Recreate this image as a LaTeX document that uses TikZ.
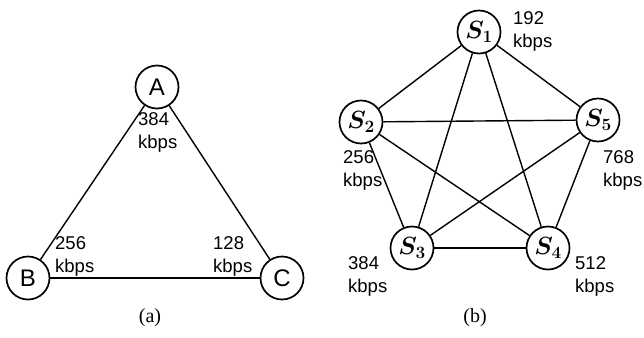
\documentclass[tikz,border=0pt]{standalone}
\usepackage{amsmath,bm}
\usepackage{fontspec}
\newfontfamily\arialfont{Liberation Sans}
\newfontfamily\timesfont{Liberation Serif}
\usetikzlibrary{positioning}
\tikzset{
    site/.style={circle, draw, line width=1.7pt, minimum size=43pt, inner sep=0pt, fill=white}, % the circles
    letter/.style={site, font=\arialfont\fontsize{24}{24}\selectfont},
    server/.style={site, font=\fontsize{23}{23}\selectfont},
    rate/.style={anchor=west, align=left, inner sep=0pt, font=\arialfont\fontsize{18.5}{23}\selectfont},
    caption/.style={font=\timesfont\fontsize{20}{20}\selectfont},
    link/.style={line width=1.4pt},
}

\begin{document}
\begin{tikzpicture}[x=1pt, y=-1pt]
    \useasboundingbox (0,0) rectangle (644,337);

    % (a)
    \node[letter] (A) at (157,87) {A};
    \node[letter] (B) at (28,278) {B};
    \node[letter] (C) at (282,278) {C};
    \draw[link] (A) -- (B);
    \draw[link] (A) -- (C);
    \draw[link, line width=1.8pt] (B) -- (C);
    \node[rate] (rA) at (138,132) {384\\kbps};
    \node[rate] (rB) at (55,256) {256\\kbps};
    \node[rate] (rC) at (213,256) {128\\kbps};
    \node[caption] (capa) at (150,318) {(a)};

    % (b)
    \node[server] (S1) at (479,32) {$\bm{S_1}$};
    \node[server] (S2) at (361,122) {$\bm{S_2}$};
    \node[server] (S5) at (598,120) {$\bm{S_5}$};
    \node[server] (S3) at (412,248) {$\bm{S_3}$};
    \node[server] (S4) at (548,248) {$\bm{S_4}$};
    \foreach \a/\b in {S1/S2, S1/S5, S1/S3, S1/S4, S2/S5, S2/S3, S2/S4, S3/S4, S3/S5, S4/S5}
        \draw[link] (\a) -- (\b);
    \node[rate] (r1) at (513,31) {192\\kbps};
    \node[rate] (r2) at (343,170) {256\\kbps};
    \node[rate] (r5) at (603,170) {768\\kbps};
    \node[rate] (r3) at (348,276) {384\\kbps};
    \node[rate] (r4) at (575,276) {512\\kbps};
    \node[caption] (capb) at (475,318) {(b)};
\end{tikzpicture}
\end{document}
